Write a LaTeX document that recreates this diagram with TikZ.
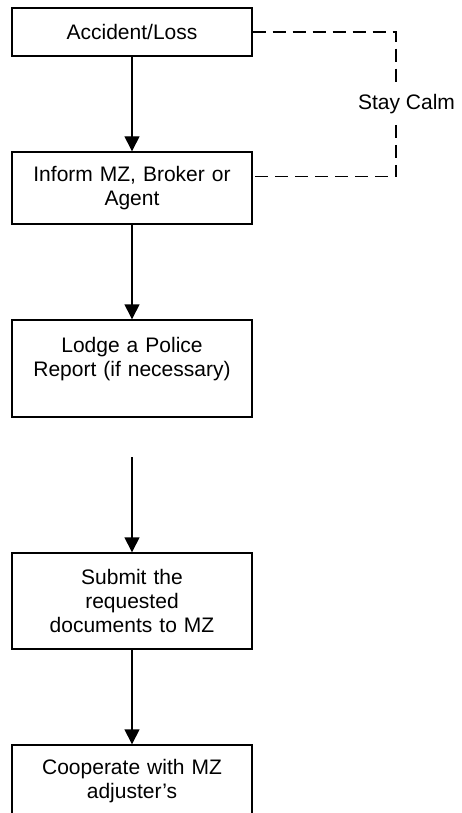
\documentclass[tikz,border=0pt]{standalone}
\usepackage{fontspec}
\setmainfont{Liberation Sans}
\usetikzlibrary{arrows.meta}
\begin{document}
\begin{tikzpicture}[x=1pt,y=-1pt,
  stepbox/.style={draw=black, line width=1.4pt, minimum width=240pt, text width=220pt, align=center, inner sep=0pt,
    font=\fontsize{21}{24}\selectfont},
  flow/.style={line width=1.4pt, -{Triangle[width=15pt,length=15pt]}},
  dashline/.style={line width=1.3pt, dash pattern=on 13pt off 7pt}]
\useasboundingbox (0,0) rectangle (462,813);
\clip (0,0) rectangle (462,813);
\node[stepbox, minimum height=48pt] (b1) at (132,32) {Accident/Loss};
\node[stepbox, minimum height=72pt] (b2) at (132,188) {Inform MZ, Broker or\\Agent};
\node[stepbox, minimum height=97pt] (b3) at (132,368.5) {Lodge a Police\\Report (if necessary)\\\mbox{}};
\node[stepbox, minimum height=96pt] (b4) at (132,601) {Submit the\\requested\\documents to MZ};
\node[stepbox, minimum height=72pt] (b5) at (132,781) {Cooperate with MZ\\adjuster's};
\coordinate (s3) at (132,457);
\draw[flow] (b1) -- (b2);
\draw[flow] (b2) -- (b3);
\draw[flow] (s3) -- (b4);
\draw[flow] (b4) -- (b5);
\node[font=\fontsize{21}{24}\selectfont, inner sep=0pt] (calm) at (406.5,104) {Stay Calm};
\coordinate (c1) at (396,32);
\coordinate (c2) at (396,82);
\coordinate (c3) at (396,125);
\coordinate (c4) at (396,176.5);
\coordinate (e2) at (252,176.5);
\draw[dashline] (b1.east) -- (c1) -- (c2);
\draw[dashline] (c3) -- (c4) -- (e2);
\end{tikzpicture}
\end{document}
